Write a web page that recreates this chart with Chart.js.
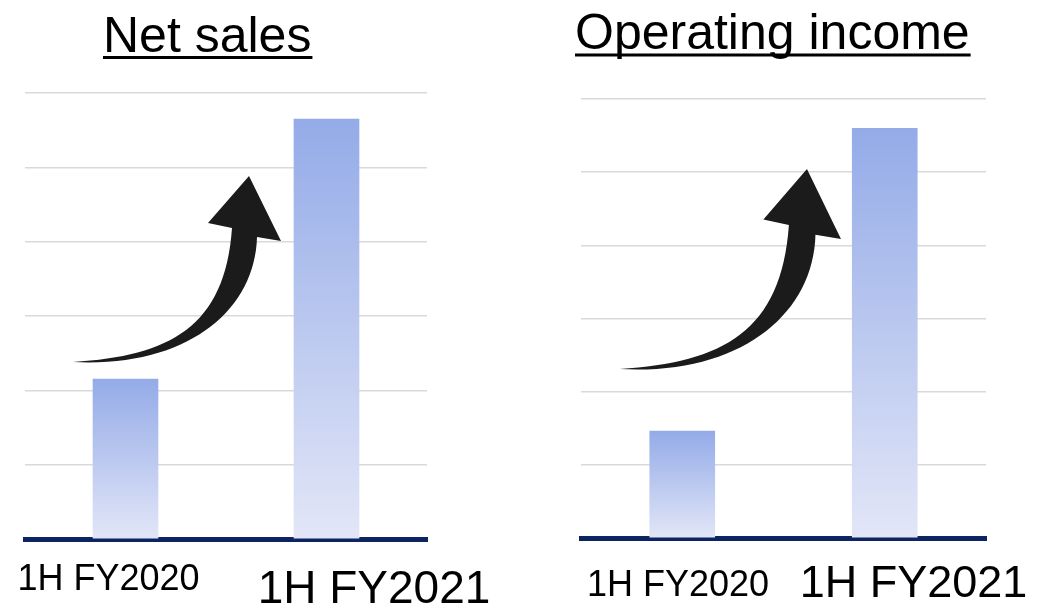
<!DOCTYPE html>
<html>
<head>
<meta charset="utf-8">
<script src="https://cdn.jsdelivr.net/npm/chart.js@4/dist/chart.umd.min.js"></script>
<style>
  html, body { margin: 0; padding: 0; background: #ffffff; }
  #wrap { position: relative; width: 1051px; height: 606px; overflow: hidden; }
  canvas { position: absolute; top: 0; }
  #salesChart { left: 0; }
  #incomeChart { left: 525px; }
</style>
</head>
<body>
<div id="wrap">
  <canvas id="salesChart" width="525" height="606"></canvas>
  <canvas id="incomeChart" width="526" height="606"></canvas>
</div>
<script>
// Half-year results, shown on an unlabelled relative scale
const categories = ['1H FY2020', '1H FY2021'];
const netSales = [2.15, 5.65];
const operatingIncome = [1.46, 5.60];
const panelTitles = ['Net sales', 'Operating income'];
const scaleMax = 6;

const FONT = '"Liberation Sans", Arial, Helvetica, sans-serif';

// Vertical fade on each bar, from its top down to the axis
function barFill(ctx) {
  const chart = ctx.chart;
  if (!chart.chartArea || ctx.type !== 'data') return '#b4c3ef';
  const y = chart.scales.y;
  const top = y.getPixelForValue(ctx.raw);
  const bottom = y.getPixelForValue(0);
  const g = chart.ctx.createLinearGradient(0, top, 0, bottom);
  g.addColorStop(0, '#94abe8');
  g.addColorStop(1, '#e2e6f7');
  return g;
}

// Curved "growth" arrow, described with its tail at the origin
function drawArrow(c, tailX, tailY, sx, sy) {
  const P = (x, y) => [tailX + x * sx, tailY + y * sy];
  c.save();
  c.fillStyle = '#1b1b1b';
  c.beginPath();
  c.moveTo(...P(-2, 0));
  c.bezierCurveTo(...P(110, 6), ...P(180, -50), ...P(182, -125));
  c.lineTo(...P(206, -121));
  c.lineTo(...P(174, -186));
  c.lineTo(...P(133, -139));
  c.lineTo(...P(157, -134));
  c.bezierCurveTo(...P(150, -35), ...P(95, -6), ...P(-2, 0));
  c.closePath();
  c.fill();
  c.restore();
}

// Underlined heading, category captions and arrow
const decorations = {
  id: 'decorations',
  afterDraw(chart, args, opts) {
    const c = chart.ctx;
    c.save();
    c.fillStyle = '#000000';
    c.textBaseline = 'alphabetic';

    c.font = '50px ' + FONT;
    c.textAlign = 'left';
    c.fillText(opts.title, opts.titleX, opts.titleY);
    const w = c.measureText(opts.title).width;
    c.fillRect(opts.titleX, opts.underlineY - 1.5, w + 1, 3);

    const xs = chart.scales.x;
    c.textAlign = 'center';
    categories.forEach((label, i) => {
      c.font = opts.labelSizes[i] + 'px ' + FONT;
      c.fillText(label, xs.getPixelForValue(i) + opts.labelShift[i], opts.labelY[i]);
    });
    c.restore();

    drawArrow(c, opts.arrow[0], opts.arrow[1], opts.arrow[2], opts.arrow[3]);
  }
};

function makeChart(id, values, padding, deco) {
  return new Chart(document.getElementById(id), {
    type: 'bar',
    data: {
      labels: categories,
      datasets: [{
        data: values,
        backgroundColor: barFill,
        borderWidth: 0,
        barThickness: 65
      }]
    },
    options: {
      responsive: false,
      animation: false,
      events: [],
      layout: { padding },
      plugins: {
        legend: { display: false },
        tooltip: { enabled: false },
        title: { display: false },
        decorations: deco
      },
      scales: {
        x: {
          offset: true,
          grid: { display: false, drawTicks: false },
          ticks: { display: false },
          border: { display: true, color: '#0c2462', width: 5 }
        },
        y: {
          min: 0,
          max: scaleMax,
          ticks: { display: false, stepSize: 1 },
          grid: { color: '#d9d9d9', lineWidth: 1.6, drawTicks: false },
          border: { display: false }
        }
      }
    },
    plugins: [decorations]
  });
}

makeChart('salesChart', netSales,
  { left: 25, right: 98, top: 93, bottom: 67 },
  {
    title: panelTitles[0], titleX: 103, titleY: 52, underlineY: 57.5,
    labelSizes: [36, 46], labelShift: [-17, 47.5], labelY: [590, 603],
    arrow: [75, 362, 1, 1]
  });

makeChart('incomeChart', operatingIncome,
  { left: 56, right: 65, top: 99, bottom: 68 },
  {
    title: panelTitles[1], titleX: 50, titleY: 49, underlineY: 55,
    labelSizes: [36, 45], labelShift: [-4.25, 28.75], labelY: [596, 597],
    arrow: [97, 369, 1.063, 1.075]
  });
</script>
</body>
</html>
